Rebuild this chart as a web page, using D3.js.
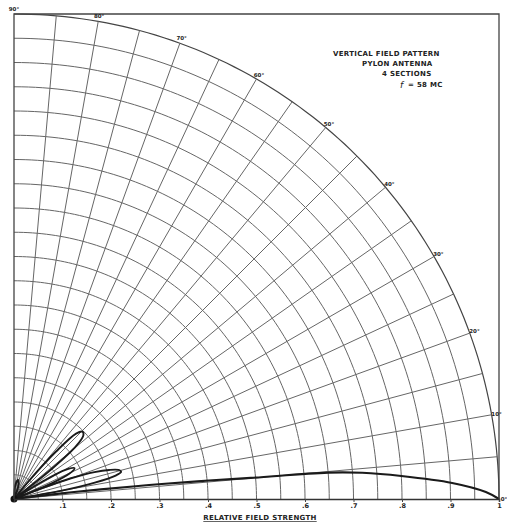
<!DOCTYPE html>
<html><head><meta charset="utf-8">
<script src="https://cdn.jsdelivr.net/npm/d3@7/dist/d3.min.js"></script>
<style>
html,body{margin:0;padding:0;background:#fff;}
svg{display:block;}
text{font-family:"DejaVu Sans",sans-serif;fill:#222;}
</style></head>
<body>
<script>
// ---- data ----
const radialTicks = [0.1,0.2,0.3,0.4,0.5,0.6,0.7,0.8,0.9,1.0];
const radialTickLabels = [".1",".2",".3",".4",".5",".6",".7",".8",".9","1"];
const angleLabels = [0,10,20,30,40,50,60,70,80,90];
// pattern lobes: [elevation angle (deg), relative field]
const mainLobe = [[0,1.0],[0.85,0.973],[2.1,0.904],[3.4,0.80],[4.3,0.72],[4.8,0.65],[5.1,0.49],[5.5,0.38],[5.9,0.28],[6.3,0.18],[6.8,0.09],[7.5,0]];
const lobe2 = [[8.5,0],[10,0.1],[11.5,0.17],[13,0.215],[14.3,0.228],[15.5,0.224],[17,0.205],[18.5,0.175],[20,0.125],[21,0.065],[22,0]];
const lobe3 = [[20.5,0],[22.5,0.08],[24.5,0.125],[27,0.14],[29.5,0.122],[31.5,0.07],[33,0]];
const lobe4 = [[36.5,0],[38.5,0.1],[40.5,0.17],[42.5,0.194],[44.5,0.198],[46.5,0.186],[48.5,0.13],[50.5,0.05],[51.5,0]];
const lobe5 = [[68,0],[72,0.03],[78,0.04],[84,0.03],[88,0]];
const titleLines = ["VERTICAL FIELD PATTERN","PYLON ANTENNA","4 SECTIONS","= 58 MC"];
const axisTitle = "RELATIVE FIELD STRENGTH";

// ---- layout ----
const W=507,H=524, ox=14, oy=499, R=485;
const svg=d3.select("body").append("svg").attr("width",W).attr("height",H);
const r=d3.scaleLinear().domain([0,1]).range([0,R]);
const a=d3.scaleLinear().domain([0,90]).range([Math.PI/2,0]); // elevation -> d3 radial angle
const g=svg.append("g").attr("transform",`translate(${ox},${oy})`);

// grid circles
const circles=d3.range(1,21).map(i=>i*0.05);
const arcLine=d3.lineRadial().angle(d=>a(d[0])).radius(d=>r(d[1]));
const angSamples=d3.range(0,90.01,1);
g.selectAll("path.circ").data(circles).join("path").attr("class","circ")
 .attr("d",v=>arcLine(angSamples.map(t=>[t,v])))
 .attr("fill","none").attr("stroke",v=>Math.abs(v-1)<1e-9?"#444":"#666").attr("stroke-width",v=>Math.abs(v-1)<1e-9?1.2:1);

// radial lines every 5 deg
const radials=d3.range(5,90,5);
g.selectAll("path.rad").data(radials).join("path").attr("class","rad")
 .attr("d",t=>arcLine([[t,0],[t,1]]))
 .attr("stroke","#666").attr("stroke-width",1);

// frame: 90 deg axis, top line, right line
svg.append("path").attr("d",`M${ox},${oy}V${oy-R}H${ox+R}V${oy}`).attr("fill","none").attr("stroke","#444").attr("stroke-width",1.3);

// bottom axis
const xs=d3.scaleLinear().domain([0,1]).range([ox,ox+R]);
const ax=svg.append("g").attr("transform",`translate(0,${oy})`)
 .call(d3.axisBottom(xs).tickValues(radialTicks).tickSize(3).tickFormat((d,i)=>radialTickLabels[i]));
ax.select(".domain").attr("stroke","#333").attr("stroke-width",1.5);
ax.selectAll(".tick line").attr("stroke","#444");
ax.selectAll(".tick text").attr("font-size",6.5).attr("font-weight","bold").attr("dy","0.5em").attr("fill","#333");

// angle labels
svg.selectAll("text.ang").data(angleLabels).join("text").attr("class","ang")
 .attr("x",t=>ox+(R+5)*Math.cos(t*Math.PI/180))
 .attr("y",t=>oy-(R+5)*Math.sin(t*Math.PI/180))
 .attr("text-anchor","middle").attr("dy","0.35em")
 .attr("font-size",5.5).attr("font-weight","bold").attr("fill","#333")
 .text(t=>t+"°");

// pattern lobes
const lobes=[mainLobe,lobe2,lobe3,lobe4,lobe5];
const patLine=d3.lineRadial().angle(d=>a(d[0])).radius(d=>r(d[1])).curve(d3.curveCatmullRom);
g.selectAll("path.lobe").data(lobes).join("path").attr("class","lobe")
 .attr("d",d=>patLine(d)).attr("fill","none").attr("stroke","#1a1a1a")
 .attr("stroke-width",(d,i)=>i===0?2.1:1.9).attr("stroke-linejoin","round");
g.append("circle").attr("r",3.5).attr("fill","#111");

// title block
const tx=[333,362,382,408], ty=[56,66,76,87];
svg.selectAll("text.ttl").data(titleLines).join("text").attr("class","ttl")
 .attr("x",(d,i)=>tx[i]).attr("y",(d,i)=>ty[i])
 .attr("font-size",7).attr("font-weight","bold").attr("letter-spacing",0.3)
 .text(d=>d);
svg.append("text").attr("x",400).attr("y",88).attr("font-size",9).attr("font-style","italic")
 .attr("font-family","DejaVu Serif").text("f");

// axis title
svg.append("text").attr("x",260).attr("y",520).attr("text-anchor","middle")
 .attr("font-size",7).attr("font-weight","bold").attr("letter-spacing",0.3)
 .attr("text-decoration","underline").text(axisTitle);
</script>
</body></html>
